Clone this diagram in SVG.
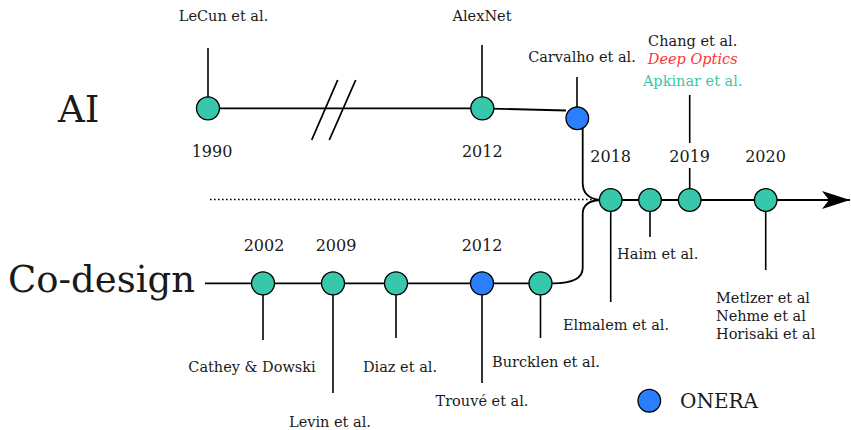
<svg xmlns="http://www.w3.org/2000/svg" width="851" height="430" viewBox="0 0 851 430">
  <style>
    .ln { fill: none; stroke: #000; stroke-width: 1.8; }
    .stem { fill: none; stroke: #000; stroke-width: 1.6; }
    .dot { fill: #37c8ab; stroke: #000; stroke-width: 1.3; }
    .onera { fill: #2a7fff; stroke: #000; stroke-width: 1.3; }
    text { font-family: "DejaVu Serif", "Liberation Serif", serif; fill: #1a1a1a; }
    .lbl { font-size: 14.5px; text-anchor: middle; }
    .note { font-size: 14.5px; }
    .yr { font-size: 16px; text-anchor: middle; }
    .big { font-size: 37px; }
  </style>
  <defs>
    <marker id="arrow" markerWidth="30" markerHeight="20" refX="28" refY="9" orient="auto" markerUnits="userSpaceOnUse">
      <path d="M0,0 L28,9 L0,18 L7,9 Z" fill="#000"/>
    </marker>
  </defs>

  <!-- row titles -->
  <text class="big" x="58" y="122">AI</text>
  <text class="big" x="8" y="292">Co-design</text>

  <g id="connectors">
    <!-- AI timeline -->
    <path class="ln" d="M208,108.3 L482,108.3 L566,110.5"/>
    <!-- axis break -->
    <path class="ln" d="M311.7,140 L337.7,80 M329.3,140 L355.7,80"/>
    <!-- merge from AI into the shared axis -->
    <path class="ln" d="M582.7,118 L582.7,183 Q582.7,198 600,200"/>
    <!-- co-design timeline -->
    <path class="ln" d="M205,283.3 L553,283.3 Q582.7,283.3 582.7,268 L582.7,214 Q582.7,201 600,200"/>
    <!-- dotted separator -->
    <path d="M210,199.5 L598,199.5" fill="none" stroke="#000" stroke-width="1.5" stroke-dasharray="1.6 2.4"/>
    <!-- shared axis with arrow -->
    <path class="ln" d="M600,200 L850,200" marker-end="url(#arrow)"/>

    <!-- stems -->
    <path class="stem" d="M208,48 L208,97"/>
    <path class="stem" d="M482,45 L482,97"/>
    <path class="stem" d="M577,77 L577,107"/>
    <path class="stem" d="M689.7,95 L689.7,143 M689.7,168 L689.7,189"/>
    <path class="stem" d="M650,211 L650,237"/>
    <path class="stem" d="M610.7,211 L610.7,302"/>
    <path class="stem" d="M765.7,211 L765.7,270"/>
    <path class="stem" d="M263,295 L263,340"/>
    <path class="stem" d="M333,295 L333,393"/>
    <path class="stem" d="M396,295 L396,338"/>
    <path class="stem" d="M482,295 L482,383"/>
    <path class="stem" d="M540.5,295 L540.5,338"/>
  </g>

  <!-- AI events -->
  <g id="lecun">
    <circle class="dot" cx="208" cy="108.3" r="11.5"/>
    <text class="lbl" x="223.5" y="21">LeCun et al.</text>
    <text class="yr" x="212" y="157">1990</text>
  </g>
  <g id="alexnet">
    <circle class="dot" cx="482.3" cy="108.3" r="11.5"/>
    <text class="lbl" x="482" y="21">AlexNet</text>
    <text class="yr" x="482.3" y="157">2012</text>
  </g>
  <g id="carvalho">
    <circle class="onera" cx="577.3" cy="118.3" r="11.3"/>
    <text class="lbl" x="582" y="61.5">Carvalho et al.</text>
  </g>

  <!-- shared axis events -->
  <g id="elmalem">
    <circle class="dot" cx="610.7" cy="200" r="11.3"/>
    <text class="yr" x="610.7" y="161.5">2018</text>
    <text class="lbl" x="616" y="330">Elmalem et al.</text>
  </g>
  <g id="haim">
    <circle class="dot" cx="650" cy="200" r="11.3"/>
    <text class="lbl" x="657.7" y="259">Haim et al.</text>
  </g>
  <g id="chang">
    <circle class="dot" cx="689.7" cy="200" r="11.3"/>
    <text class="yr" x="689.7" y="161.5">2019</text>
    <text class="lbl" x="692.7" y="46">Chang et al.</text>
    <text class="lbl" x="692.7" y="64" font-style="italic" style="fill:#ff3333">Deep Optics</text>
    <text class="lbl" x="692.7" y="85.5" style="fill:#37c8ab">Apkinar et al.</text>
  </g>
  <g id="metlzer">
    <circle class="dot" cx="765.7" cy="200" r="11.3"/>
    <text class="yr" x="765.5" y="161.5">2020</text>
    <text class="note" x="716" y="302.7">Metlzer et al</text>
    <text class="note" x="716" y="320.7">Nehme et al</text>
    <text class="note" x="716" y="338.5">Horisaki et al</text>
  </g>

  <!-- co-design events -->
  <g id="cathey">
    <circle class="dot" cx="263" cy="283.3" r="11.5"/>
    <text class="yr" x="264" y="251">2002</text>
    <text class="lbl" x="252" y="372">Cathey &amp; Dowski</text>
  </g>
  <g id="levin">
    <circle class="dot" cx="333" cy="283.3" r="11.5"/>
    <text class="yr" x="336" y="251">2009</text>
    <text class="lbl" x="330" y="427">Levin et al.</text>
  </g>
  <g id="diaz">
    <circle class="dot" cx="396" cy="283.3" r="11.5"/>
    <text class="lbl" x="400" y="372">Diaz et al.</text>
  </g>
  <g id="trouve">
    <circle class="onera" cx="482" cy="283.3" r="11.5"/>
    <text class="yr" x="482" y="251">2012</text>
    <text class="lbl" x="482" y="406">Trouvé et al.</text>
  </g>
  <g id="burcklen">
    <circle class="dot" cx="540.5" cy="283.3" r="11.5"/>
    <text class="lbl" x="546" y="367">Burcklen et al.</text>
  </g>

  <!-- legend -->
  <g id="legend">
    <circle class="onera" cx="649.3" cy="400.7" r="11.3"/>
    <text font-size="20" x="680" y="408">ONERA</text>
  </g>
</svg>
